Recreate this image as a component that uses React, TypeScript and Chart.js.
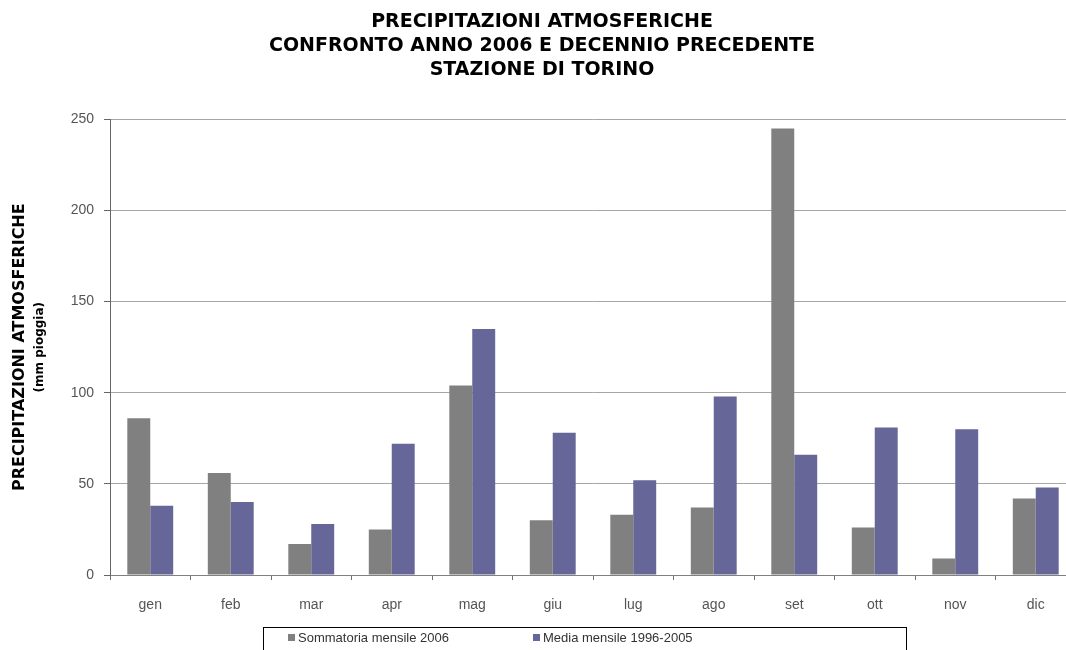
import { useEffect, useRef } from 'react';
import { Chart, registerables } from 'chart.js';

Chart.register(...registerables);

// Monthly precipitation, Torino station (mm of rain)
const months = ['gen', 'feb', 'mar', 'apr', 'mag', 'giu', 'lug', 'ago', 'set', 'ott', 'nov', 'dic'];
const sum2006 = [86, 56, 17, 25, 104, 30, 33, 37, 245, 26, 9, 42];
const mean1996to2005 = [38, 40, 28, 72, 135, 78, 52, 98, 66, 81, 80, 48];
const yTicks = [0, 50, 100, 150, 200, 250];

const titleLines = [
  'PRECIPITAZIONI ATMOSFERICHE',
  'CONFRONTO ANNO 2006 E DECENNIO PRECEDENTE',
  'STAZIONE DI TORINO',
];
const yTitleLines = ['PRECIPITAZIONI ATMOSFERICHE', '(mm pioggia)'];
const seriesLabels = ['Sommatoria mensile 2006', 'Media mensile 1996-2005'];
const seriesColors = ['#808080', '#666699'];

const TITLE_FONT = '"DejaVu Sans", sans-serif';
const TEXT_FONT = '"Liberation Sans", Arial, sans-serif';

// Rotated two-line axis title and a framed legend under the axis
const decorations = {
  id: 'decorations',
  afterDraw(chart: any) {
    const { ctx, chartArea } = chart;
    const midY = (chartArea.top + chartArea.bottom) / 2;

    ctx.save();
    ctx.fillStyle = '#000000';
    ctx.textAlign = 'center';
    ctx.textBaseline = 'middle';
    ctx.translate(20, midY);
    ctx.rotate(-Math.PI / 2);
    ctx.font = `bold 16px ${TITLE_FONT}`;
    ctx.fillText(yTitleLines[0], 0, 0);
    ctx.font = `bold 12px ${TITLE_FONT}`;
    ctx.fillText(yTitleLines[1], 0, 20);
    ctx.restore();

    const frameLeft = chartArea.left + 153;
    const frameTop = chartArea.bottom + 52;
    ctx.save();
    ctx.strokeStyle = '#000000';
    ctx.lineWidth = 1;
    ctx.strokeRect(Math.round(frameLeft) + 0.5, Math.round(frameTop) + 0.5, 643, 40);
    ctx.font = `13px ${TEXT_FONT}`;
    ctx.textAlign = 'left';
    ctx.textBaseline = 'middle';
    const itemY = frameTop + 11;
    chart.data.datasets.forEach((ds: any, i: number) => {
      const x = frameLeft + 25 + i * 245;
      ctx.fillStyle = ds.backgroundColor;
      ctx.fillRect(Math.round(x), Math.round(itemY - 4), 7, 7);
      ctx.fillStyle = '#333333';
      ctx.fillText(ds.label, x + 10, itemY);
    });
    ctx.restore();
  },
};

export default function App() {
  const canvasRef = useRef<HTMLCanvasElement | null>(null);

  useEffect(() => {
    const canvas = canvasRef.current;
    if (!canvas) return;
    const chart = new Chart(canvas, {
      type: 'bar',
      data: {
        labels: months,
        datasets: [
          {
            label: seriesLabels[0],
            data: sum2006,
            backgroundColor: seriesColors[0],
            borderWidth: 0,
          },
          {
            label: seriesLabels[1],
            data: mean1996to2005,
            backgroundColor: seriesColors[1],
            borderWidth: 0,
          },
        ],
      },
      options: {
        responsive: false,
        animation: false,
        devicePixelRatio: 1,
        layout: { padding: { left: 8, right: 8, top: 0, bottom: 0 } },
        datasets: {
          bar: { categoryPercentage: 0.57, barPercentage: 1.0 },
        },
        plugins: {
          legend: { display: false },
          tooltip: { enabled: false },
          title: {
            display: true,
            text: titleLines,
            color: '#000000',
            font: { family: TITLE_FONT, size: 19, weight: 'bold', lineHeight: 1.27 },
            padding: { top: 10, bottom: 37 },
          },
        },
        scales: {
          x: {
            grid: {
              display: true,
              offset: true,
              drawOnChartArea: false,
              drawTicks: true,
              tickLength: 5,
              color: '#707070',
            },
            border: { display: true, color: '#808080', width: 1 },
            ticks: {
              color: '#555555',
              font: { family: TEXT_FONT, size: 14 },
              padding: 17,
            },
            afterFit: (scale: any) => {
              scale.height = 75;
            },
          },
          y: {
            min: 0,
            max: 250,
            afterBuildTicks: (scale: any) => {
              scale.ticks = yTicks.map((v) => ({ value: v }));
            },
            grid: {
              color: '#a6a6a6',
              lineWidth: 1,
              drawTicks: true,
              tickLength: 6,
              tickColor: '#666666',
            },
            border: { display: true, color: '#666666', width: 1 },
            ticks: {
              color: '#555555',
              font: { family: TEXT_FONT, size: 14 },
              padding: 10,
            },
            afterFit: (scale: any) => {
              scale.width = 102;
            },
          },
        },
      },
      plugins: [decorations],
    });
    return () => chart.destroy();
  }, []);

  return (
    <div
      style={{
        position: 'fixed',
        left: 0,
        top: 0,
        width: 1066,
        height: 650,
        overflow: 'hidden',
        background: '#ffffff',
      }}
    >
      <canvas ref={canvasRef} width={1084} height={650} style={{ display: 'block' }} />
    </div>
  );
}
